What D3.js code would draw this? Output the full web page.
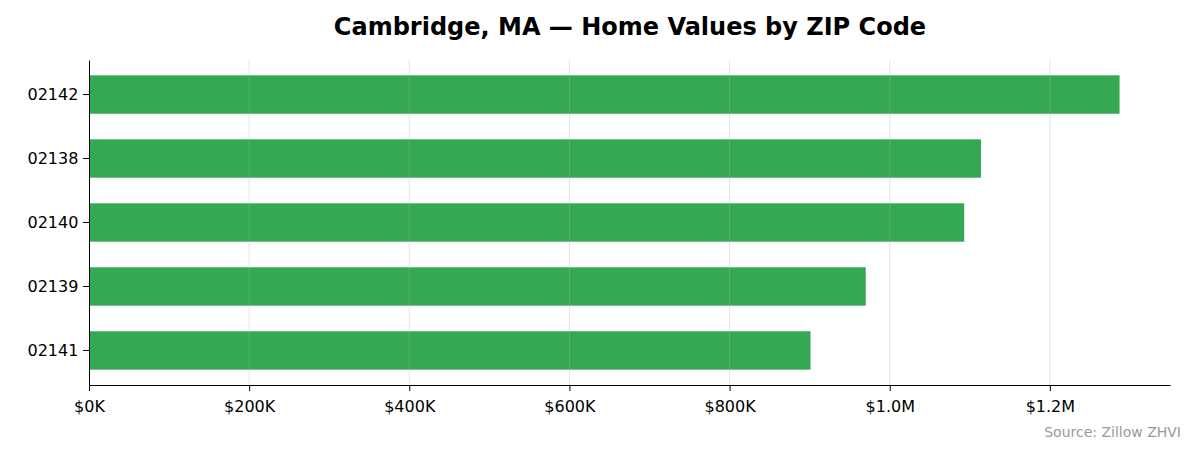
<!DOCTYPE html>
<html><head><meta charset="utf-8">
<script src="https://cdn.jsdelivr.net/npm/d3@7"></script>
<style>body{margin:0;background:#fff}text{font-family:"DejaVu Sans",sans-serif}</style>
</head><body><svg id="c" width="1195" height="455"></svg>
<script>
const zips = ["02142","02138","02140","02139","02141"];
const values = [1287000,1114000,1093000,970000,901000];
const tickValues = [0,200000,400000,600000,800000,1000000,1200000];
const tickLabels = ["$0K","$200K","$400K","$600K","$800K","$1.0M","$1.2M"];

const svg = d3.select("#c");
const m = {l:89, r:1170, t:60, b:385};
const x = d3.scaleLinear().domain([0,1350000]).range([m.l,m.r]);
const y = d3.scaleBand().domain(zips).range([m.t,m.b]).paddingInner(0.4).paddingOuter(0.24);

svg.append("g").selectAll("rect").data(zips).join("rect")
  .attr("x",x(0)).attr("y",d=>y(d)).attr("height",y.bandwidth())
  .attr("width",(d,i)=>x(values[i])-x(0)).attr("fill","#34a853");

svg.append("g").selectAll("line").data(tickValues.slice(1)).join("line")
  .attr("x1",d=>x(d)).attr("x2",d=>x(d)).attr("y1",m.t).attr("y2",m.b)
  .attr("stroke","#b0b0b0").attr("stroke-opacity",0.35).attr("stroke-width",1);

const xa = svg.append("g").attr("transform",`translate(0,${m.b})`)
  .call(d3.axisBottom(x).tickValues(tickValues).tickFormat((d,i)=>tickLabels[i]).tickSize(6).tickSizeOuter(0));
const ya = svg.append("g").attr("transform",`translate(${m.l},0)`)
  .call(d3.axisLeft(y).tickSize(6).tickSizeOuter(0));
[xa,ya].forEach(a=>{a.selectAll("text").attr("font-size",16).attr("fill","#000");
  a.selectAll("line,path").attr("stroke","#000");});
xa.selectAll("text").attr("dy","1.1em");
ya.selectAll("text").attr("dx","-0.1em");

svg.append("text").attr("x",630).attr("y",35).attr("text-anchor","middle")
  .attr("font-size",24).attr("font-weight","bold").text("Cambridge, MA — Home Values by ZIP Code");
svg.append("text").attr("x",1181).attr("y",437).attr("text-anchor","end")
  .attr("font-size",14).attr("fill","#999").text("Source: Zillow ZHVI");
</script></body></html>
